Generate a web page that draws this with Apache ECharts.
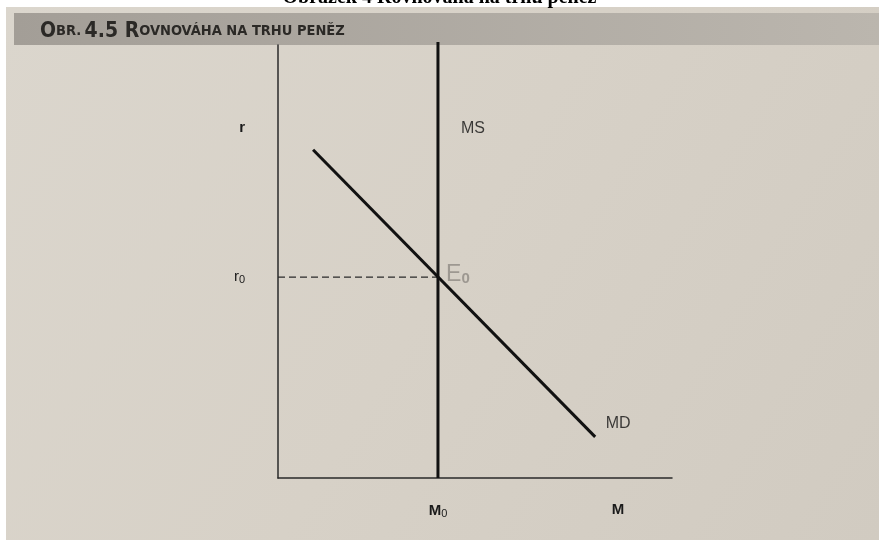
<!DOCTYPE html>
<html>
<head>
<meta charset="utf-8">
<script src="https://cdn.jsdelivr.net/npm/echarts@6/dist/echarts.min.js"></script>
<style>
    html, body { margin: 0; padding: 0; background: #fff; }
    #chart { width: 879px; height: 540px; }
</style>
</head>
<body>
<div id="chart"></div>
<script>
// data of the diagram (axis units 0..100)
const nabidkaMS = [[40.6, 0], [40.6, 100.7]];
const poptavkaMD = [[8.9, 75.8], [80.5, 9.5]];
const rovnovahaE0 = [40.6, 46.4];
const popiskyOsyX = ['M0', 'M'];
const hodnotyOsyX = [40.6, 86.3];
const popiskyOsyY = ['r0', 'r'];
const hodnotyOsyY = [46.4, 80.8];

document.addEventListener('DOMContentLoaded', function () {
    const chart = echarts.init(document.getElementById('chart'));

    function popisek(text) {
        // "r0" -> r with subscript 0
        if (text.length > 1) return '{a|' + text[0] + '}{s|' + text.slice(1) + '}';
        return '{b|' + text + '}';
    }

    const option = {
        animation: false,
        backgroundColor: '#ffffff',
        textStyle: { fontFamily: 'Liberation Sans, Arial, sans-serif' },
        graphic: [
            {
                type: 'rect', z: -10, silent: true,
                shape: { x: 6, y: 7, width: 873, height: 533 },
                style: {
                    fill: new echarts.graphic.LinearGradient(0, 0, 1, 1, [
                        { offset: 0, color: '#dbd6cd' },
                        { offset: 0.5, color: '#d7d1c7' },
                        { offset: 1, color: '#d1cbc1' }
                    ])
                }
            },
            {
                type: 'rect', z: -5, silent: true,
                shape: { x: 14, y: 13, width: 865, height: 32 },
                style: {
                    fill: new echarts.graphic.LinearGradient(0, 0, 1, 0, [
                        { offset: 0, color: '#a39e97' },
                        { offset: 1, color: '#bbb6ae' }
                    ])
                }
            },
            {
                type: 'text', silent: true, left: 'center', top: -12,
                style: {
                    text: 'Obrázek 4 Rovnováha na trhu peněz',
                    font: 'bold 20px "Liberation Serif", serif',
                    fill: '#000'
                }
            },
            {
                type: 'text', silent: true, left: 40, top: 21,
                style: {
                    text: '{v|O}{m|BR.} {v|4.5 R}{m|OVNOVÁHA NA TRHU PENĚZ}',
                    rich: {
                        v: { font: 'bold 21px "DejaVu Sans Condensed", sans-serif', fill: '#2b2926', verticalAlign: 'bottom', height: 24 },
                        m: { font: 'bold 14.5px "DejaVu Sans Condensed", sans-serif', fill: '#2b2926', verticalAlign: 'bottom', height: 24 }
                    }
                }
            }
        ],
        grid: { left: 278, right: 207, top: 45, bottom: 62 },
        xAxis: {
            type: 'value', min: 0, max: 100,
            axisLine: { show: true, lineStyle: { color: '#2a2a2a', width: 1.5 } },
            axisTick: { show: false },
            splitLine: { show: false },
            axisLabel: {
                customValues: hodnotyOsyX,
                margin: 24,
                formatter: function (v) { return popisek(popiskyOsyX[hodnotyOsyX.indexOf(v)]); },
                rich: {
                    a: { fontSize: 15, color: '#1a1a1a', fontWeight: 'bold' },
                    s: { fontSize: 11, color: '#1a1a1a', padding: [6, 0, 0, 0] },
                    b: { fontSize: 15, color: '#1a1a1a', fontWeight: 'bold' }
                }
            }
        },
        yAxis: {
            type: 'value', min: 0, max: 100,
            axisLine: { show: true, lineStyle: { color: '#2a2a2a', width: 1.5 } },
            axisTick: { show: false },
            splitLine: { show: false },
            axisLabel: {
                customValues: hodnotyOsyY,
                margin: 33,
                formatter: function (v) { return popisek(popiskyOsyY[hodnotyOsyY.indexOf(v)]); },
                rich: {
                    a: { fontSize: 15, color: '#1a1a1a' },
                    s: { fontSize: 11, color: '#1a1a1a', padding: [6, 0, 0, 0] },
                    b: { fontSize: 15, color: '#1a1a1a', fontWeight: 'bold' }
                }
            }
        },
        series: [
            {
                name: 'r0', type: 'line', symbol: 'none', silent: true,
                lineStyle: { color: '#2a2a2a', width: 1.2, type: [7, 4] },
                data: [[0, rovnovahaE0[1]], rovnovahaE0]
            },
            {
                name: 'MS', type: 'line', symbol: 'none', clip: false, silent: true,
                lineStyle: { color: '#111', width: 3 },
                data: nabidkaMS
            },
            {
                name: 'MD', type: 'line', symbol: 'none', silent: true,
                lineStyle: { color: '#111', width: 3 },
                data: poptavkaMD
            },
            {
                name: 'popisky', type: 'scatter', symbolSize: 0, silent: true,
                label: { show: true, formatter: '{b}', fontSize: 16, color: '#111' },
                data: [
                    { name: 'MS', value: [nabidkaMS[0][0], hodnotyOsyY[1]], label: { offset: [35, 0] } },
                    { name: 'MD', value: poptavkaMD[1], label: { offset: [23, -13] } },
                    {
                        name: 'E0', value: rovnovahaE0,
                        label: {
                            offset: [20, -2],
                            formatter: '{e|E}{n|0}',
                            rich: {
                                e: { fontSize: 23, color: '#8f8a83' },
                                n: { fontSize: 15, color: '#8f8a83', fontWeight: 'bold', padding: [8, 0, 0, 0] }
                            }
                        }
                    }
                ]
            }
        ]
    };
    chart.setOption(option);
});
</script>
</body>
</html>
